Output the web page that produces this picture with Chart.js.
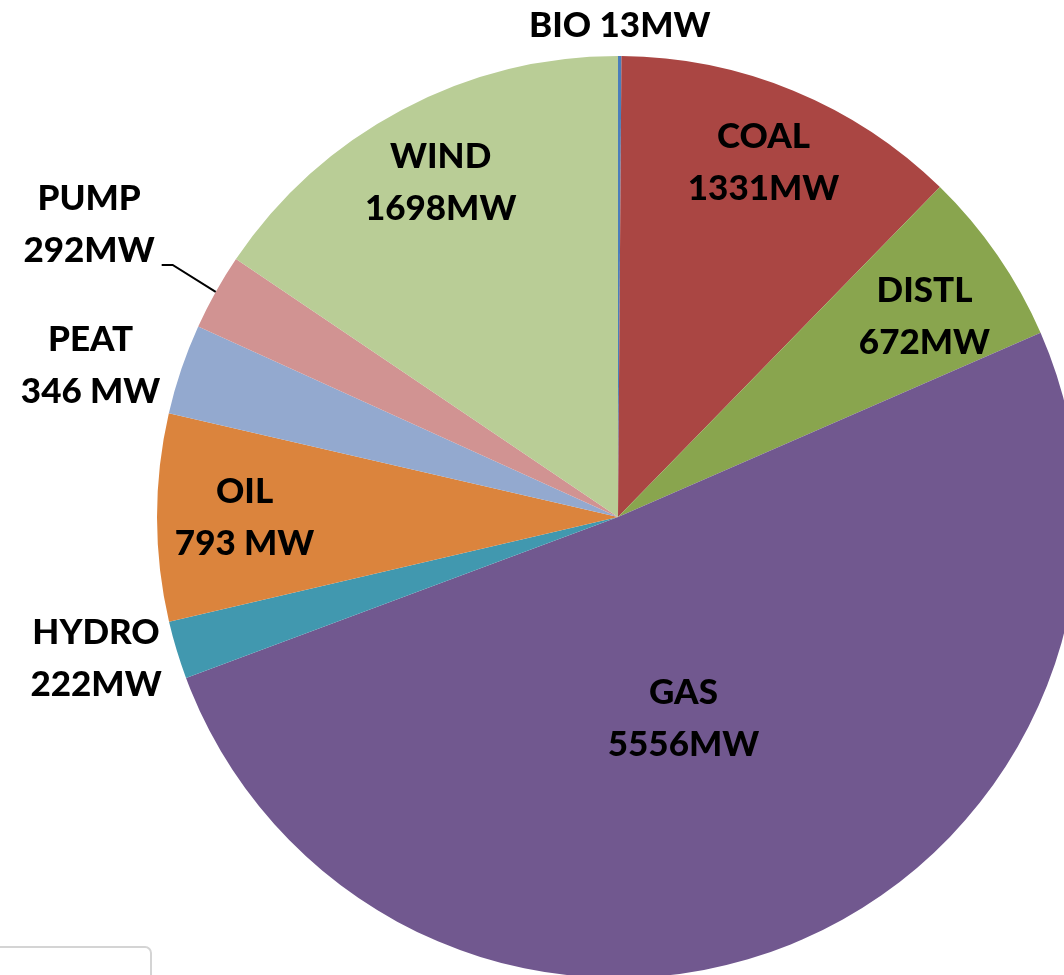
<!DOCTYPE html>
<html>
<head>
<meta charset="utf-8">
<script src="https://cdn.jsdelivr.net/npm/chart.js@4/dist/chart.umd.min.js"></script>
<style>
  html, body { margin: 0; padding: 0; background: #fff; overflow: hidden; width: 1064px; height: 975px; }
  #wrap { position: absolute; left: 0; top: 0; width: 1079px; height: 978px; }
  #caixa { position: absolute; left: -12px; top: 946px; width: 160px; height: 60px;
           border: 2px solid #d4d4d4; border-radius: 7px; background: #fff; }
</style>
</head>
<body>
<div id="caixa"></div>
<div id="wrap"><canvas id="grafico" width="1079" height="978"></canvas></div>
<script>
const categorias = ['BIO', 'COAL', 'DISTL', 'GAS', 'HYDRO', 'OIL', 'PEAT', 'PUMP', 'WIND'];
const valores = [13, 1331, 672, 5556, 222, 793, 346, 292, 1698];
const textos = [
  ['BIO 13MW'],
  ['COAL', '1331MW'],
  ['DISTL', '672MW'],
  ['GAS', '5556MW'],
  ['HYDRO', '222MW'],
  ['OIL', '793 MW'],
  ['PEAT', '346 MW'],
  ['PUMP', '292MW'],
  ['WIND', '1698MW']
];
const cores = ['#4A7EBB', '#AA4643', '#89A54E', '#71588F', '#4198AF', '#DB843D', '#93A9CF', '#D19392', '#B9CD96'];

// onde cada rótulo fica (fração do raio, desvio de ângulo em graus, deslocamento)
const posicoes = [
  { r: 1.0, dy: -30, align: 'center' },
  { r: 0.83 },
  { r: 0.80, dx: 3, dy: 9 },
  { r: 0.46, da: 4 },
  { r: 1.0, dx: -15, dy: 9, align: 'right' },
  { r: 0.81 },
  { r: 1.0, dx: -21, dy: -3, align: 'right' },
  { r: 1.0, dx: -61, dy: -67, align: 'right', guia: true },
  { r: 0.82 }
];

const rotulos = {
  id: 'rotulos',
  afterDatasetsDraw(chart) {
    const ctx = chart.ctx;
    const arcos = chart.getDatasetMeta(0).data;
    ctx.save();
    ctx.font = '900 35px Lato, "Open Sans", sans-serif';
    ctx.fillStyle = '#000';
    ctx.textBaseline = 'middle';
    ctx.textAlign = 'center';
    const alturaLinha = 52;
    arcos.forEach((arco, i) => {
      const p = posicoes[i];
      const meio = (arco.startAngle + arco.endAngle) / 2 + (p.da || 0) * Math.PI / 180;
      const ex = arco.x + Math.cos(meio) * arco.outerRadius * p.r;
      const ey = arco.y + Math.sin(meio) * arco.outerRadius * p.r;
      const linhas = textos[i];
      const largura = Math.max(...linhas.map(l => ctx.measureText(l).width));
      let cx = ex + (p.dx || 0);
      const cy = ey + (p.dy || 0);
      if (p.align === 'right') cx -= largura / 2;
      const topo = cy - (linhas.length - 1) * alturaLinha / 2;
      linhas.forEach((l, k) => ctx.fillText(l, cx, topo + k * alturaLinha));
      if (p.guia) {
        ctx.strokeStyle = '#000';
        ctx.lineWidth = 2;
        ctx.beginPath();
        ctx.moveTo(ex, ey);
        ctx.lineTo(ex - 43, ey - 27);
        ctx.lineTo(ex - 54, ey - 27);
        ctx.stroke();
      }
    });
    ctx.restore();
  }
};

new Chart(document.getElementById('grafico'), {
  type: 'pie',
  data: {
    labels: categorias,
    datasets: [{
      data: valores,
      backgroundColor: cores,
      borderWidth: 0
    }]
  },
  options: {
    responsive: false,
    animation: false,
    layout: { padding: { left: 157, top: 56, right: 0, bottom: 0 } },
    plugins: {
      legend: { display: false },
      tooltip: { enabled: false }
    }
  },
  plugins: [rotulos]
});
</script>
</body>
</html>
